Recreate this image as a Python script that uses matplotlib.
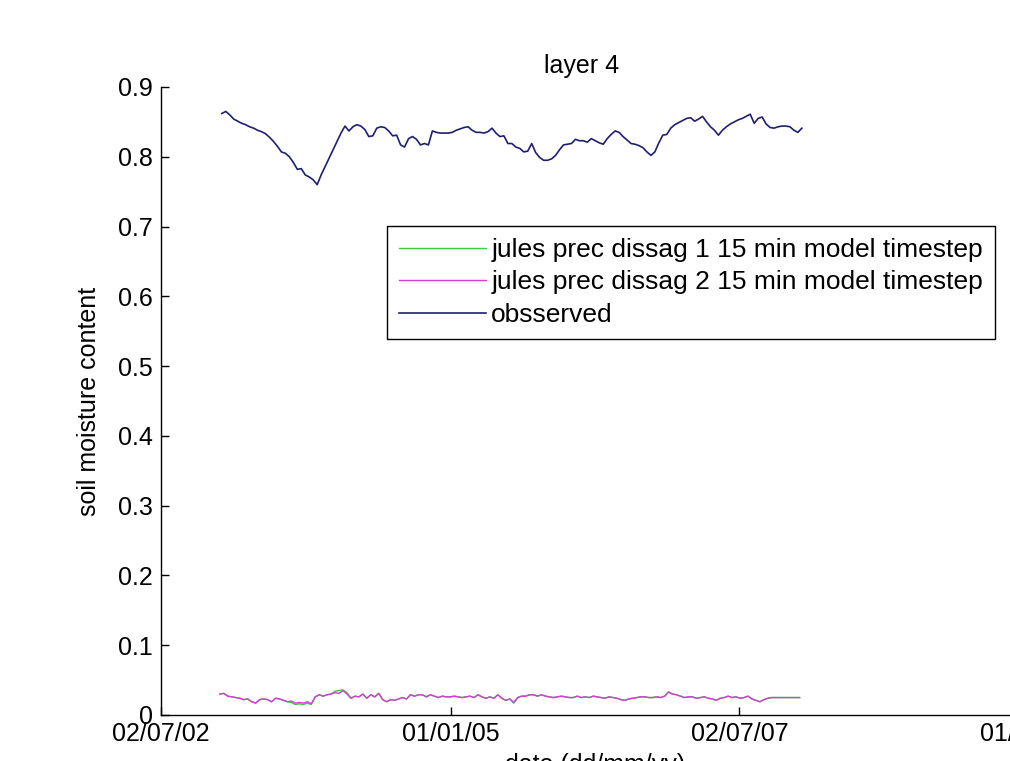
"""Layer 4 soil moisture: JULES runs vs observed (matplotlib)."""

import matplotlib

matplotlib.use("Agg")
import matplotlib.pyplot as plt  # noqa: E402
import matplotlib.dates as mdates  # noqa: E402
import pandas as pd  # noqa: E402

plt.rcParams["font.family"] = ["Liberation Sans", "DejaVu Sans"]
plt.rcParams["font.size"] = 18

# x axis tick dates (dd/mm/yy)
TICK_DATES = ["2002-07-02", "2005-01-01", "2007-07-02", "2010-01-01"]
Y_TICKS = [0, 0.1, 0.2, 0.3, 0.4, 0.5, 0.6, 0.7, 0.8, 0.9]

# observed series, evenly spaced samples between these dates
OBS_START, OBS_END = "2003-01-10", "2008-01-15"
OBS = [
    0.862, 0.865, 0.860, 0.854, 0.851, 0.848, 0.846, 0.843, 0.841, 0.838,
    0.836, 0.833, 0.828, 0.822, 0.815, 0.807, 0.805, 0.800, 0.792, 0.782,
    0.783, 0.774, 0.771, 0.767, 0.760, 0.774, 0.786, 0.798, 0.810, 0.822,
    0.834, 0.844, 0.837, 0.843, 0.846, 0.844, 0.839, 0.829, 0.830, 0.841,
    0.843, 0.842, 0.837, 0.830, 0.831, 0.817, 0.814, 0.826, 0.829, 0.825,
    0.817, 0.819, 0.817, 0.837, 0.835, 0.834, 0.834, 0.834, 0.835, 0.838,
    0.840, 0.842, 0.843, 0.838, 0.835, 0.835, 0.834, 0.836, 0.841, 0.834,
    0.829, 0.830, 0.819, 0.819, 0.814, 0.812, 0.807, 0.808, 0.819, 0.806,
    0.799, 0.795, 0.795, 0.797, 0.802, 0.810, 0.817, 0.818, 0.819, 0.825,
    0.823, 0.823, 0.821, 0.826, 0.823, 0.820, 0.818, 0.826, 0.832, 0.837,
    0.835, 0.829, 0.824, 0.819, 0.818, 0.816, 0.813, 0.807, 0.802, 0.807,
    0.820, 0.831, 0.832, 0.841, 0.846, 0.849, 0.852, 0.855, 0.856, 0.851,
    0.854, 0.858, 0.850, 0.843, 0.838, 0.831, 0.838, 0.843, 0.847, 0.850,
    0.853, 0.855, 0.858, 0.861, 0.848, 0.855, 0.857, 0.847, 0.842, 0.841,
    0.843, 0.844, 0.844, 0.843, 0.838, 0.835, 0.841,
]

# model runs, evenly spaced samples between these dates
JULES_START, JULES_END = "2003-01-04", "2008-01-08"
JULES1 = [
    0.030, 0.031, 0.027, 0.026, 0.025, 0.024, 0.022, 0.023, 0.019, 0.017,
    0.022, 0.023, 0.022, 0.019, 0.024, 0.023, 0.021, 0.019, 0.018, 0.015,
    0.016, 0.015, 0.017, 0.015, 0.026, 0.029, 0.027, 0.029, 0.030, 0.034,
    0.035, 0.036, 0.032, 0.024, 0.027, 0.026, 0.030, 0.024, 0.029, 0.026,
    0.031, 0.022, 0.019, 0.022, 0.021, 0.023, 0.025, 0.023, 0.029, 0.027,
    0.029, 0.029, 0.026, 0.029, 0.027, 0.025, 0.027, 0.026, 0.026, 0.027,
    0.026, 0.025, 0.026, 0.027, 0.025, 0.029, 0.026, 0.024, 0.026, 0.024,
    0.029, 0.024, 0.021, 0.023, 0.017, 0.025, 0.027, 0.027, 0.029, 0.029,
    0.027, 0.029, 0.027, 0.026, 0.025, 0.026, 0.027, 0.026, 0.025, 0.025,
    0.027, 0.025, 0.026, 0.025, 0.027, 0.026, 0.025, 0.024, 0.026, 0.025,
    0.024, 0.022, 0.021, 0.023, 0.024, 0.025, 0.026, 0.026, 0.025, 0.025,
    0.026, 0.025, 0.027, 0.033, 0.030, 0.029, 0.027, 0.025, 0.026, 0.026,
    0.024, 0.025, 0.026, 0.024, 0.023, 0.021, 0.024, 0.025, 0.027, 0.025,
    0.026, 0.024, 0.025, 0.027, 0.023, 0.021, 0.019, 0.022, 0.024, 0.025,
    0.025, 0.025, 0.025, 0.025, 0.025, 0.025, 0.025,
]
JULES2 = [
    0.030, 0.031, 0.027, 0.026, 0.025, 0.024, 0.022, 0.023, 0.019, 0.017,
    0.022, 0.023, 0.022, 0.019, 0.024, 0.023, 0.021, 0.019, 0.020, 0.017,
    0.018, 0.017, 0.019, 0.016, 0.026, 0.029, 0.027, 0.029, 0.030, 0.032,
    0.031, 0.035, 0.030, 0.024, 0.027, 0.026, 0.030, 0.024, 0.029, 0.026,
    0.031, 0.022, 0.019, 0.022, 0.021, 0.023, 0.025, 0.023, 0.029, 0.027,
    0.029, 0.029, 0.026, 0.029, 0.027, 0.025, 0.027, 0.026, 0.026, 0.027,
    0.026, 0.025, 0.026, 0.027, 0.025, 0.029, 0.026, 0.024, 0.026, 0.024,
    0.029, 0.024, 0.021, 0.023, 0.018, 0.025, 0.027, 0.027, 0.029, 0.029,
    0.027, 0.029, 0.027, 0.026, 0.025, 0.026, 0.027, 0.026, 0.025, 0.025,
    0.027, 0.025, 0.026, 0.025, 0.027, 0.026, 0.025, 0.024, 0.026, 0.025,
    0.024, 0.022, 0.021, 0.023, 0.024, 0.025, 0.026, 0.026, 0.025, 0.025,
    0.026, 0.025, 0.027, 0.033, 0.030, 0.029, 0.027, 0.025, 0.026, 0.026,
    0.024, 0.025, 0.026, 0.024, 0.023, 0.021, 0.024, 0.025, 0.027, 0.025,
    0.026, 0.024, 0.025, 0.027, 0.023, 0.021, 0.019, 0.022, 0.024, 0.025,
    0.025, 0.025, 0.025, 0.025, 0.025, 0.025, 0.025,
]

LABELS = [
    "jules prec dissag 1 15 min model timestep",
    "jules prec dissag 2 15 min model timestep",
    "obsserved",
]
COLORS = ["#3ccc3c", "#d63cd6", "#1f1f72"]


def main():
    obs_dates = pd.date_range(OBS_START, OBS_END, periods=len(OBS))
    jules_dates = pd.date_range(JULES_START, JULES_END, periods=len(JULES1))
    ticks = pd.to_datetime(TICK_DATES)

    W, H = 1010, 761
    fig = plt.figure(figsize=(W / 100, H / 100), dpi=100)
    # axes run past the right edge of the (cropped) picture
    ax = fig.add_axes([161 / W, (H - 715) / H, (1029 - 161) / W, (715 - 87) / H])

    ax.plot(jules_dates, JULES1, color=COLORS[0], lw=1.0, label=LABELS[0])
    ax.plot(jules_dates, JULES2, color=COLORS[1], lw=1.0, label=LABELS[1])
    ax.plot(obs_dates, OBS, color=COLORS[2], lw=1.2, label=LABELS[2])

    ax.set_xlim(ticks[0], ticks[-1])
    ax.set_ylim(0, 0.9)
    ax.set_xticks(ticks)
    ax.xaxis.set_major_formatter(mdates.DateFormatter("%d/%m/%y"))
    ax.set_yticks(Y_TICKS)
    ax.set_yticklabels([f"{v:g}" for v in Y_TICKS])
    for s in ("top", "right"):
        ax.spines[s].set_visible(False)
    for s in ("left", "bottom"):
        ax.spines[s].set_linewidth(1.0)
    ax.tick_params(direction="in", length=6, width=1.0)
    ax.tick_params(axis="x", pad=5)
    ax.tick_params(axis="y", pad=6)

    ax.set_title("layer 4", fontsize=18, pad=10, x=0.485)
    ax.set_ylabel("soil moisture content", labelpad=12)
    ax.set_xlabel("date (dd/mm/yy)", labelpad=5)

    leg = ax.legend(loc="upper left", bbox_to_anchor=(387 / W, 1 - 226 / H),
                    bbox_transform=fig.transFigure, fancybox=False,
                    edgecolor="black", framealpha=1, fontsize=19,
                    handlelength=3.3, handletextpad=0.2, borderpad=0.45,
                    labelspacing=0.32, borderaxespad=0)
    leg.get_frame().set_linewidth(1.0)

    fig.savefig("out.png", dpi=100)
    plt.close(fig)


if __name__ == "__main__":
    main()
